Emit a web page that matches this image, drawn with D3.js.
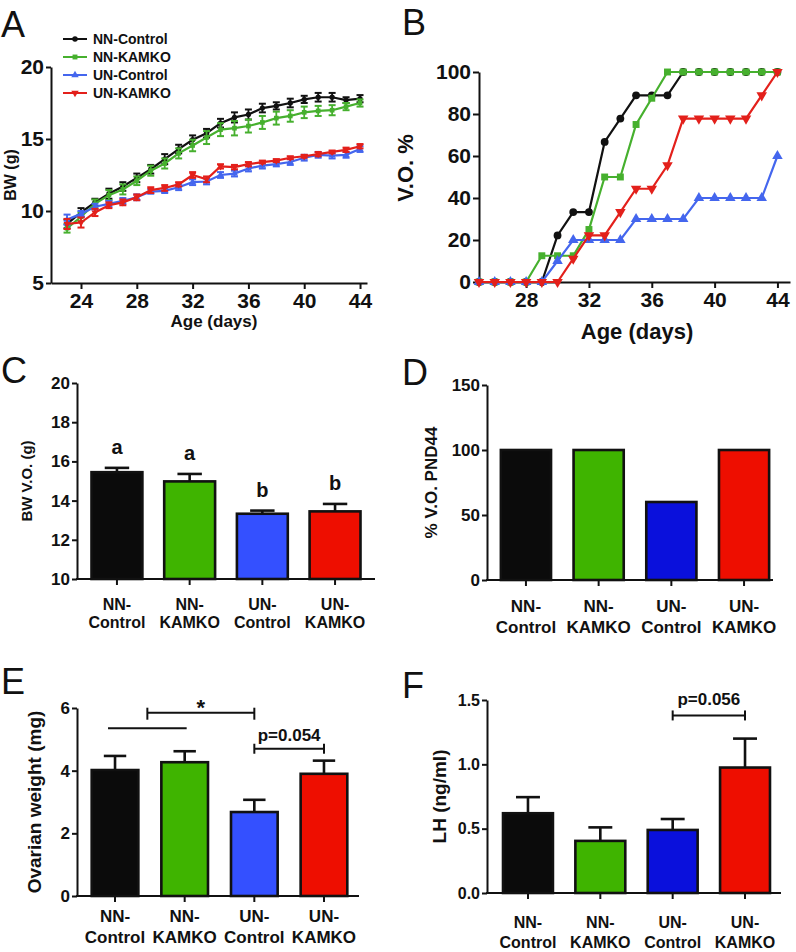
<!DOCTYPE html>
<html><head><meta charset="utf-8">
<script src="https://cdn.jsdelivr.net/npm/d3@7"></script>
<style>
body{margin:0;background:#fff}
svg{display:block}
text{font-family:"Liberation Sans",Arial,Helvetica,sans-serif;fill:#111}
</style>
</head><body>
<svg id="c" width="796" height="952"></svg>
<script>
// ---------------- DATA ----------------
const groups = ["NN-Control","NN-KAMKO","UN-Control","UN-KAMKO"];
const groupLine1 = ["NN-","NN-","UN-","UN-"];
const groupLine2 = ["Control","KAMKO","Control","KAMKO"];

// Panel A: body weight by age
const ages = [23,24,25,26,27,28,29,30,31,32,33,34,35,36,37,38,39,40,41,42,43,44];
const bwNNControl = [9.1,9.9,10.6,11.2,11.7,12.3,12.9,13.6,14.3,14.95,15.4,16.1,16.5,16.7,17.15,17.3,17.5,17.75,17.9,17.9,17.7,17.8];
const bwNNKAMKO   = [8.8,9.6,10.5,11.1,11.5,12.1,12.8,13.3,14.0,14.55,15.1,15.65,15.75,15.9,16.15,16.45,16.6,16.85,16.95,17.0,17.25,17.5];
const bwUNControl = [9.4,9.8,10.3,10.5,10.7,10.95,11.35,11.4,11.65,12.0,12.05,12.5,12.6,12.95,13.15,13.25,13.4,13.7,13.9,13.85,13.9,14.3];
const bwUNKAMKO   = [9.1,9.2,9.9,10.4,10.6,10.95,11.45,11.6,11.85,12.5,12.2,13.1,13.05,13.25,13.4,13.5,13.7,13.8,13.95,14.1,14.25,14.5];
const semNNControl = [0.3,0.3,0.25,0.35,0.3,0.3,0.3,0.35,0.3,0.3,0.3,0.3,0.35,0.35,0.3,0.25,0.3,0.25,0.3,0.3,0.2,0.25];
const semNNKAMKO   = [0.3,0.3,0.3,0.35,0.35,0.3,0.35,0.35,0.35,0.4,0.45,0.45,0.5,0.45,0.45,0.45,0.4,0.4,0.35,0.35,0.25,0.25];
const semUNControl = [0.35,0.2,0.2,0.2,0.2,0.2,0.15,0.15,0.2,0.2,0.2,0.2,0.2,0.2,0.2,0.15,0.2,0.2,0.2,0.2,0.2,0.2];
const semUNKAMKO   = [0.35,0.35,0.25,0.2,0.2,0.2,0.2,0.2,0.15,0.2,0.2,0.15,0.15,0.15,0.1,0.1,0.1,0.1,0.15,0.1,0.15,0.15];
const ticksAx = [24,28,32,36,40,44];
const ticksAy = [5,10,15,20];

// Panel B: cumulative vaginal opening %
const agesB = [25,26,27,28,29,30,31,32,33,34,35,36,37,38,39,40,41,42,43,44];
const voNNControl = [0,0,0,0,0,22.2,33.3,33.3,66.7,77.8,88.9,88.9,88.9,100,100,100,100,100,100,100];
const voNNKAMKO   = [0,0,0,0,12.5,12.5,12.5,25,50,50,75,87.5,100,100,100,100,100,100,100,100];
const voUNControl = [0,0,0,0,0,10,20,20,20,20,30,30,30,30,40,40,40,40,40,60];
const voUNKAMKO   = [0,0,0,0,0,0,11.1,22.2,22.2,33.3,44.4,44.4,55.6,77.8,77.8,77.8,77.8,77.8,88.9,100];
const ticksBx = [28,32,36,40,44];
const ticksBy = [0,20,40,60,80,100];

// Panel C: BW at V.O.
const bwVO    = [15.45,14.98,13.33,13.45];
const bwVOsem = [0.22,0.38,0.16,0.38];
const bwVOletters = ["a","a","b","b"];
const ticksCy = [10,12,14,16,18,20];

// Panel D: % V.O. at PND44
const voPND44 = [100,100,60,100];
const ticksDy = [0,50,100,150];

// Panel E: ovarian weight
const ovW    = [4.02,4.27,2.68,3.9];
const ovWsem = [0.45,0.35,0.39,0.42];
const ticksEy = [0,2,4,6];

// Panel F: LH
const lh    = [0.62,0.405,0.49,0.975];
const lhSem = [0.125,0.105,0.085,0.225];
const ticksFy = [0,0.5,1.0,1.5];

// ---------------- STYLE ----------------
const lineColors = ["#111111","#46b02e","#4466ee","#e3201b"];
const symbols = [d3.symbolCircle, d3.symbolSquare, d3.symbolTriangle, d3.symbolTriangle];
const symRot = [0,0,0,180];
const barColorsCE = ["#0b0b0b","#3fb400","#3450ff","#ee0e00"];
const barColorsDF = ["#0b0b0b","#3fb400","#0a10dc","#ee0e00"];

const svg = d3.select("#c");
const FONT = '"Liberation Sans",Arial,Helvetica,sans-serif';

function panelLetter(t, x, y){
  svg.append("text").attr("x",x).attr("y",y).attr("font-size",36).text(t);
}
function styleAxis(g, fs){
  g.selectAll("path.domain").attr("stroke","#111").attr("stroke-width",2);
  g.selectAll(".tick line").attr("stroke","#111").attr("stroke-width",2);
  g.selectAll(".tick text").attr("font-size",fs).attr("font-weight","bold").attr("fill","#111").attr("font-family",FONT);
}

// ---------------- PANEL A ----------------
(function(){
  const x = d3.scaleLinear().domain([21.85,44.5]).range([51,367]);
  const y = d3.scaleLinear().domain([5,20]).range([283,67]);
  const gy = svg.append("g").attr("transform","translate(51,0)")
    .call(d3.axisLeft(y).tickValues(ticksAy).tickSize(5).tickPadding(2).tickSizeOuter(0));
  styleAxis(gy,21);
  const gx = svg.append("g").attr("transform","translate(0,283)")
    .call(d3.axisBottom(x).tickValues(ticksAx).tickSize(6).tickPadding(4).tickSizeOuter(0));
  styleAxis(gx,21);
  svg.append("text").attr("transform","translate(16,175) rotate(-90)").attr("text-anchor","middle")
    .attr("font-size",16).attr("font-weight","bold").text("BW (g)");
  svg.append("text").attr("x",214).attr("y",327).attr("text-anchor","middle")
    .attr("font-size",17).attr("font-weight","bold").text("Age (days)");
  const series = [bwNNControl,bwNNKAMKO,bwUNControl,bwUNKAMKO];
  const sems = [semNNControl,semNNKAMKO,semUNControl,semUNKAMKO];
  const line = d3.line().x((d,i)=>x(ages[i])).y(d=>y(d));
  series.forEach((s,k)=>{
    const g = svg.append("g");
    s.forEach((v,i)=>{
      const cx = x(ages[i]);
      g.append("line").attr("x1",cx).attr("x2",cx).attr("y1",y(v-sems[k][i])).attr("y2",y(v+sems[k][i]))
        .attr("stroke",lineColors[k]).attr("stroke-width",1.8);
      [v-sems[k][i], v+sems[k][i]].forEach(e=>{
        g.append("line").attr("x1",cx-3.5).attr("x2",cx+3.5).attr("y1",y(e)).attr("y2",y(e))
          .attr("stroke",lineColors[k]).attr("stroke-width",2);
      });
    });
    g.append("path").datum(s).attr("d",line).attr("fill","none").attr("stroke",lineColors[k]).attr("stroke-width",2.2);
    g.selectAll("path.m").data(s).enter().append("path").attr("class","m")
      .attr("d",d3.symbol().type(symbols[k]).size(22))
      .attr("transform",(d,i)=>`translate(${x(ages[i])},${y(d)}) rotate(${symRot[k]})`)
      .attr("fill",lineColors[k]);
  });
  // legend
  const ly = d3.scalePoint().domain(groups).range([39,93]);
  groups.forEach((name,k)=>{
    const yy = ly(name);
    svg.append("line").attr("x1",63).attr("x2",87).attr("y1",yy).attr("y2",yy)
      .attr("stroke",lineColors[k]).attr("stroke-width",2);
    svg.append("path").attr("d",d3.symbol().type(symbols[k]).size(24))
      .attr("transform",`translate(75,${yy}) rotate(${symRot[k]})`).attr("fill",lineColors[k]);
    svg.append("text").attr("x",93).attr("y",yy).attr("dy","0.36em").attr("font-size",14)
      .attr("font-weight","bold").text(name);
  });
  panelLetter("A",1,37);
})();

// ---------------- PANEL B ----------------
(function(){
  const x = d3.scaleLinear().domain([25,44.8]).range([479,790]);
  const y = d3.scaleLinear().domain([0,100]).range([282,72]);
  const gy = svg.append("g").attr("transform","translate(479,0)")
    .call(d3.axisLeft(y).tickValues(ticksBy).tickSize(6).tickPadding(2).tickSizeOuter(0));
  styleAxis(gy,21);
  const gx = svg.append("g").attr("transform","translate(0,282)")
    .call(d3.axisBottom(x).tickValues(ticksBx).tickSize(6).tickPadding(4).tickSizeOuter(0));
  styleAxis(gx,21);
  svg.append("text").attr("transform","translate(413,168) rotate(-90)").attr("text-anchor","middle")
    .attr("font-size",22).attr("font-weight","bold").text("V.O. %");
  svg.append("text").attr("x",637).attr("y",339).attr("text-anchor","middle")
    .attr("font-size",22).attr("font-weight","bold").text("Age (days)");
  const series = [voNNControl,voNNKAMKO,voUNControl,voUNKAMKO];
  const line = d3.line().x((d,i)=>x(agesB[i])).y(d=>y(d));
  series.forEach((s,k)=>{
    const g = svg.append("g");
    g.append("path").datum(s).attr("d",line).attr("fill","none").attr("stroke",lineColors[k]).attr("stroke-width",2.2);
    g.selectAll("path.m").data(s).enter().append("path").attr("class","m")
      .attr("d",d3.symbol().type(symbols[k]).size(48))
      .attr("transform",(d,i)=>`translate(${x(agesB[i])},${y(d)}) rotate(${symRot[k]})`)
      .attr("fill",lineColors[k]);
  });
  panelLetter("B",402,35);
})();

// ---------------- BAR PANELS ----------------
function barPanel(o){
  const x = d3.scaleBand().domain(groups).range(o.band).paddingInner(o.pi).paddingOuter(o.po);
  const y = d3.scaleLinear().domain(o.yDomain).range(o.yRange);
  const base = o.yRange[0];
  const g = svg.append("g");
  g.selectAll("rect").data(o.values).enter().append("rect")
    .attr("x",(d,i)=>x(groups[i])).attr("width",x.bandwidth())
    .attr("y",d=>y(d)).attr("height",d=>base-y(d))
    .attr("fill",(d,i)=>o.colors[i]).attr("stroke","#111").attr("stroke-width",2.6);
  if(o.errors){
    o.values.forEach((v,i)=>{
      const cx = x(groups[i])+x.bandwidth()/2;
      g.append("line").attr("x1",cx).attr("x2",cx).attr("y1",y(v)).attr("y2",y(v+o.errors[i]))
        .attr("stroke","#111").attr("stroke-width",2.6);
      g.append("line").attr("x1",cx-x.bandwidth()*0.24).attr("x2",cx+x.bandwidth()*0.24)
        .attr("y1",y(v+o.errors[i])).attr("y2",y(v+o.errors[i]))
        .attr("stroke","#111").attr("stroke-width",2.6);
    });
  }
  const gy = svg.append("g").attr("transform",`translate(${o.axisX0},0)`)
    .call(d3.axisLeft(y).tickValues(o.ticks).tickFormat(o.fmt||d3.format("d")).tickSize(5).tickPadding(2).tickSizeOuter(0));
  styleAxis(gy,o.tickFs);
  svg.append("line").attr("x1",o.axisX0-1).attr("x2",o.axisX1).attr("y1",base).attr("y2",base)
    .attr("stroke","#111").attr("stroke-width",2);
  groups.forEach((gname,i)=>{
    const cx = x(gname)+x.bandwidth()/2;
    svg.append("line").attr("x1",cx).attr("x2",cx).attr("y1",base).attr("y2",base+6)
      .attr("stroke","#111").attr("stroke-width",2);
    svg.append("text").attr("x",cx).attr("y",o.lab1).attr("text-anchor","middle")
      .attr("font-size",o.labFs).attr("font-weight","bold").text(groupLine1[i]);
    svg.append("text").attr("x",cx).attr("y",o.lab2).attr("text-anchor","middle")
      .attr("font-size",o.labFs).attr("font-weight","bold").text(groupLine2[i]);
  });
  svg.append("text").attr("transform",`translate(${o.ylX},${(o.yRange[0]+o.yRange[1])/2}) rotate(-90)`)
    .attr("text-anchor","middle").attr("font-size",o.ylFs).attr("font-weight","bold").text(o.ylabel);
  return {x,y};
}

// Panel C
(function(){
  const s = barPanel({band:[80.6,371.4],pi:0.3,po:0.15,yDomain:[10,20],yRange:[579,383],
    values:bwVO,errors:bwVOsem,colors:barColorsCE,ticks:ticksCy,tickFs:17,
    axisX0:77,axisX1:375,lab1:610,lab2:628,labFs:16,ylX:32,ylFs:15,ylabel:"BW V.O. (g)"});
  bwVOletters.forEach((t,i)=>{
    const cx = s.x(groups[i])+s.x.bandwidth()/2;
    svg.append("text").attr("x",cx).attr("y",s.y(bwVO[i]+bwVOsem[i])-14).attr("text-anchor","middle")
      .attr("font-size",20).attr("font-weight","bold").text(t);
  });
  panelLetter("C",1,383);
})();

// Panel D
(function(){
  barPanel({band:[489.6,780.4],pi:0.31,po:0.155,yDomain:[0,150],yRange:[580,385],
    values:voPND44,errors:null,colors:barColorsDF,ticks:ticksDy,tickFs:17,
    axisX0:487,axisX1:773,lab1:612,lab2:633,labFs:17,ylX:437,ylFs:17,ylabel:"% V.O. PND44"});
  panelLetter("D",402,385);
})();

// Panel E
(function(){
  const s = barPanel({band:[80.2,358.8],pi:0.33,po:0.165,yDomain:[0,6],yRange:[896,708],
    values:ovW,errors:ovWsem,colors:barColorsCE,ticks:ticksEy,tickFs:17,
    axisX0:77,axisX1:359,lab1:922,lab2:943,labFs:17,ylX:41,ylFs:19,ylabel:"Ovarian weight (mg)"});
  const c = i => s.x(groups[i])+s.x.bandwidth()/2;
  const gl = svg.append("g").attr("stroke","#111").attr("stroke-width",2);
  const yNN = s.y(5.35);
  gl.append("line").attr("x1",c(0)-7).attr("x2",c(1)+2).attr("y1",yNN).attr("y2",yNN);
  const yStar = s.y(5.85);
  const xs0 = (c(0)-7+c(1)+2)/2;
  gl.append("line").attr("x1",xs0).attr("x2",c(2)).attr("y1",yStar).attr("y2",yStar);
  [xs0,c(2)].forEach(xx=>gl.append("line").attr("x1",xx).attr("x2",xx).attr("y1",yStar-5).attr("y2",yStar+7));
  svg.append("text").attr("x",(xs0+c(2))/2).attr("y",yStar+2).attr("text-anchor","middle")
    .attr("font-size",22).attr("font-weight","bold").text("*");
  const yP = s.y(4.7);
  gl.append("line").attr("x1",c(2)).attr("x2",c(3)).attr("y1",yP).attr("y2",yP);
  [c(2),c(3)].forEach(xx=>gl.append("line").attr("x1",xx).attr("x2",xx).attr("y1",yP-5).attr("y2",yP+5));
  svg.append("text").attr("x",(c(2)+c(3))/2).attr("y",yP-8).attr("text-anchor","middle")
    .attr("font-size",17).attr("font-weight","bold").text("p=0.054");
  panelLetter("E",1,694);
})();

// Panel F
(function(){
  const s = barPanel({band:[491.8,781.2],pi:0.31,po:0.155,yDomain:[0,1.5],yRange:[893,700],
    values:lh,errors:lhSem,colors:barColorsDF,ticks:ticksFy,fmt:d3.format(".1f"),tickFs:16,
    axisX0:487,axisX1:781,lab1:928,lab2:948,labFs:16,ylX:446,ylFs:19,ylabel:"LH (ng/ml)"});
  const c = i => s.x(groups[i])+s.x.bandwidth()/2;
  const yP = s.y(1.38);
  const gl = svg.append("g").attr("stroke","#111").attr("stroke-width",2);
  gl.append("line").attr("x1",c(2)).attr("x2",c(3)).attr("y1",yP).attr("y2",yP);
  [c(2),c(3)].forEach(xx=>gl.append("line").attr("x1",xx).attr("x2",xx).attr("y1",yP-5).attr("y2",yP+5));
  svg.append("text").attr("x",(c(2)+c(3))/2).attr("y",yP-10).attr("text-anchor","middle")
    .attr("font-size",17).attr("font-weight","bold").text("p=0.056");
  panelLetter("F",402,698);
})();
</script>
</body></html>
